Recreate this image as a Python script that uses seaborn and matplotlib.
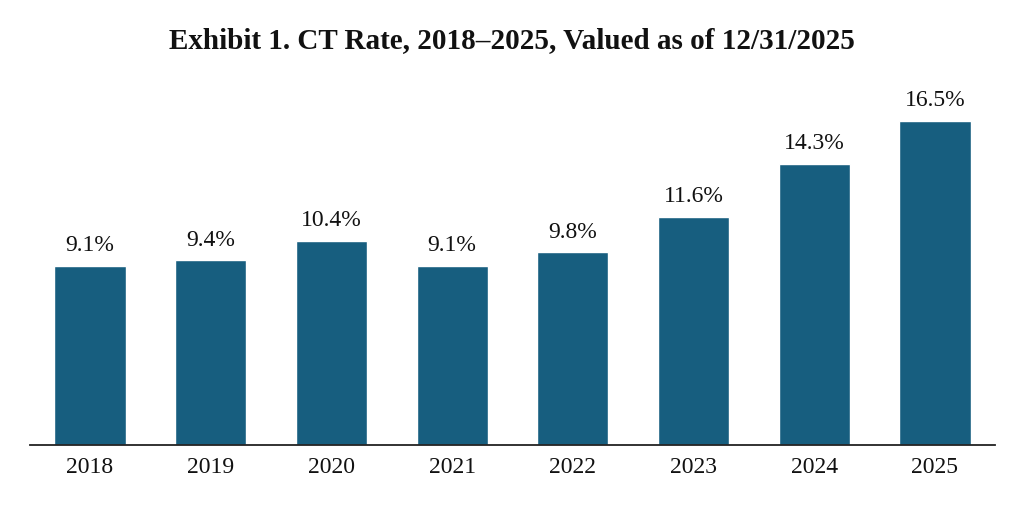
import matplotlib
matplotlib.use("Agg")
import matplotlib.pyplot as plt
import pandas as pd
import seaborn as sns

years = ["2018", "2019", "2020", "2021", "2022", "2023", "2024", "2025"]
rates = [9.1, 9.4, 10.4, 9.1, 9.8, 11.6, 14.3, 16.5]
labels = ["9.1%", "9.4%", "10.4%", "9.1%", "9.8%", "11.6%", "14.3%", "16.5%"]

df = pd.DataFrame({"year": years, "rate": rates})

sns.set_theme(style="white")
plt.rcParams["font.family"] = ["Liberation Serif", "DejaVu Serif"]

fig = plt.figure(figsize=(10.24, 5.10), dpi=100)
ax = fig.add_axes([0.029, 0.125, 0.943, 0.675])
sns.barplot(data=df, x="year", y="rate", color="#175e7f", width=0.59,
            saturation=1, ax=ax)

for p, lab in zip(ax.patches, labels):
    ax.text(p.get_x() + p.get_width() / 2, p.get_height() + 0.55, lab,
            ha="center", va="bottom", fontsize=17, color="#111111")

ax.set_ylim(0, 17.5)
ax.set_xlim(-0.5, 7.5)
ax.set_xlabel("")
ax.set_ylabel("")
ax.set_yticks([])
for s in ["top", "right", "left"]:
    ax.spines[s].set_visible(False)
ax.spines["bottom"].set_color("#222222")
ax.spines["bottom"].set_linewidth(1.3)
ax.tick_params(axis="x", labelsize=17, colors="#111111", length=0, pad=8)

fig.text(0.5, 0.92, "Exhibit 1. CT Rate, 2018\u20132025, Valued as of 12/31/2025",
         ha="center", va="center", fontsize=21, fontweight="bold", color="#111111")

fig.savefig("out.png", dpi=100)
